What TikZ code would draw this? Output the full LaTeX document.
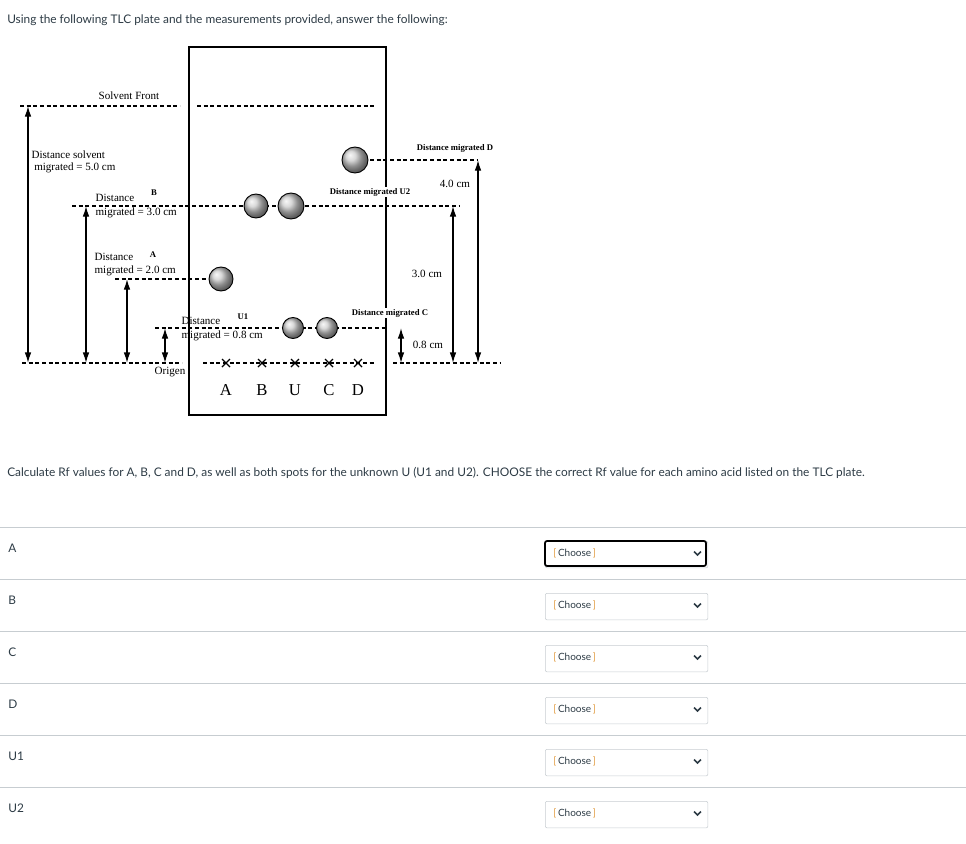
\documentclass[tikz,border=0pt]{standalone}
\usepackage{fontspec}
\setmainfont{Lato}
\newfontfamily\tms{Liberation Serif}
\usetikzlibrary{arrows.meta}
\definecolor{ui}{HTML}{2D3B45}
\definecolor{sep}{HTML}{C7CDD1}
\definecolor{org}{HTML}{E09A3E}
\begin{document}
\begin{tikzpicture}[x=0.75pt,y=-0.75pt,
  dl/.style={dashed,dash pattern=on 3pt off 2pt,line width=0.8pt},
  dim/.style={{Latex[length=8pt,width=5pt]}-{Latex[length=8pt,width=5pt]},line width=1pt},
  spot/.style={circle,draw=black,line width=0.7pt,shading=ball,ball color=gray!40,inner sep=0pt},
  lab/.style={font=\tms\fontsize{8.3}{9}\selectfont,inner sep=1pt,fill=white},
  blab/.style={font=\tms\bfseries\fontsize{6.5}{7}\selectfont,inner sep=1pt,fill=white},
  uitxt/.style={font=\fontsize{8.9}{10}\selectfont,text=ui,anchor=west,inner sep=0pt},
  ddbox/.style={draw=sep,rounded corners=1.5pt,minimum width=122pt,minimum height=20pt,anchor=north west,inner sep=0pt}]
\useasboundingbox (0,0) rectangle (966,843);
\node[uitxt] (t1) at (7,20) {Using the following TLC plate and the measurements provided, answer the following:};
% plate
\draw[line width=1pt] (189,47) rectangle (386,415);
% horizontal dashed lines
\draw[dl] (20,106) -- (180,106);
\draw[dl] (197,106) -- (376,106);
\draw[dl] (22,363) -- (182,363);
\draw[dl] (203,363) -- (376,363);
\draw[dl] (393,363) -- (500,363);
\draw[dl] (370,160) -- (478,160);
\draw[dl] (72,206) -- (460,206);
\draw[dl] (115,279) -- (207,279);
\draw[dl] (155,328) -- (388,328);
% spots
\node[spot,minimum size=26pt*0.75] (sD) at (355,160) {};
\node[spot,minimum size=24pt*0.75] (sB) at (256,206) {};
\node[spot,minimum size=26pt*0.75] (sU2) at (291,206) {};
\node[spot,minimum size=24pt*0.75] (sA) at (221,279) {};
\node[spot,minimum size=21pt*0.75] (sU1) at (293,328) {};
\node[spot,minimum size=21pt*0.75] (sC) at (327,328) {};
% crosses and letters
\foreach \x/\l in {226/A,262/B,295/U,329/C,358/D}{
  \coordinate (x\l) at (\x,363);
  \draw[line width=0.9pt] ([shift={(-4,-4)}]x\l) -- ([shift={(4,4)}]x\l) ([shift={(-4,4)}]x\l) -- ([shift={(4,-4)}]x\l);
  \node[font=\tms\fontsize{12.5}{12}\selectfont] (L\l) at (\x,390) {\l};
}
% dimension arrows
\coordinate (o1) at (28,363); \coordinate (f1) at (28,106);
\draw[dim] (f1) -- (o1);
\coordinate (o2) at (86,363); \coordinate (f2) at (86,206);
\draw[dim] (f2) -- (o2);
\coordinate (o3) at (127,363); \coordinate (f3) at (127,279);
\draw[dim] (f3) -- (o3);
\coordinate (o4) at (165,363); \coordinate (f4) at (165,328);
\draw[dim] (f4) -- (o4);
\coordinate (o5) at (401,363); \coordinate (f5) at (401,328);
\draw[dim] (f5) -- (o5);
\coordinate (o6) at (453,363); \coordinate (f6) at (453,206);
\draw[dim] (f6) -- (o6);
\coordinate (o7) at (478,363); \coordinate (f7) at (478,160);
\draw[dim] (f7) -- (o7);
% labels
\node[lab,fill=none] (sf) at (129,96) {Solvent Front};
\node[lab,fill=none,anchor=north west,align=left] (ds) at (30,149) {Distance solvent\\\hspace{2pt}migrated = 5.0 cm};
\node[lab,fill=none,anchor=west] (dB1) at (94,198) {Distance};
\node[blab,fill=none] (dB2) at (154,193) {B};
\node[lab,fill=none,anchor=west] (dB3) at (94,213) {migrated = 3.0 cm};
\node[lab,fill=none,anchor=west] (dA1) at (93,257) {Distance};
\node[blab,fill=none] (dA2) at (153,255) {A};
\node[lab,fill=none,anchor=west] (dA3) at (93,271) {migrated = 2.0 cm};
\node[lab,fill=none,anchor=west] (dU1) at (180,321) {Distance};
\node[blab,fill=none] (dU2) at (243,317) {U1};
\node[lab,fill=none,anchor=west] (dU3) at (180,336) {migrated = 0.8 cm};
\node[lab,fill=none] (og) at (170,372) {Origen};
\node[blab] (mD) at (455,148) {Distance migrated D};
\node[lab] (c4) at (455,184) {4.0 cm};
\node[blab] (mU2) at (370,192) {Distance migrated U2};
\node[lab] (c3) at (427,274) {3.0 cm};
\node[blab] (mC) at (390,313) {Distance migrated C};
\node[lab] (c08) at (428,345) {0.8 cm};
% question
\node[uitxt] (q) at (7,473) {Calculate Rf values for A, B, C and D, as well as both spots for the unknown U (U1 and U2). CHOOSE the correct Rf value for each amino acid listed on the TLC plate.};
\foreach \i/\l in {0/A,1/B,2/C,3/D,4/U1,5/U2}{
  \draw[sep,line width=0.7pt] (0,527+52*\i) -- (966,527+52*\i);
  \node[uitxt] (r\i) at (8,548+52*\i) {\l};
  \node[ddbox] (dd\i) at (545,541+52*\i) {};
  \node[uitxt,font=\fontsize{7.5}{8}\selectfont] (ch\i) at (553,553.5+52*\i) {\textcolor{org}{[}\,Choose\,\textcolor{org}{]}};
  \draw[line width=1.2pt,ui] (694,551.5+52*\i) -- (697.5,555+52*\i) -- (701,551.5+52*\i);
}
\draw[line width=1.3pt,black,rounded corners=1.5pt] (545,541) rectangle (706,566);
\end{tikzpicture}
\end{document}
